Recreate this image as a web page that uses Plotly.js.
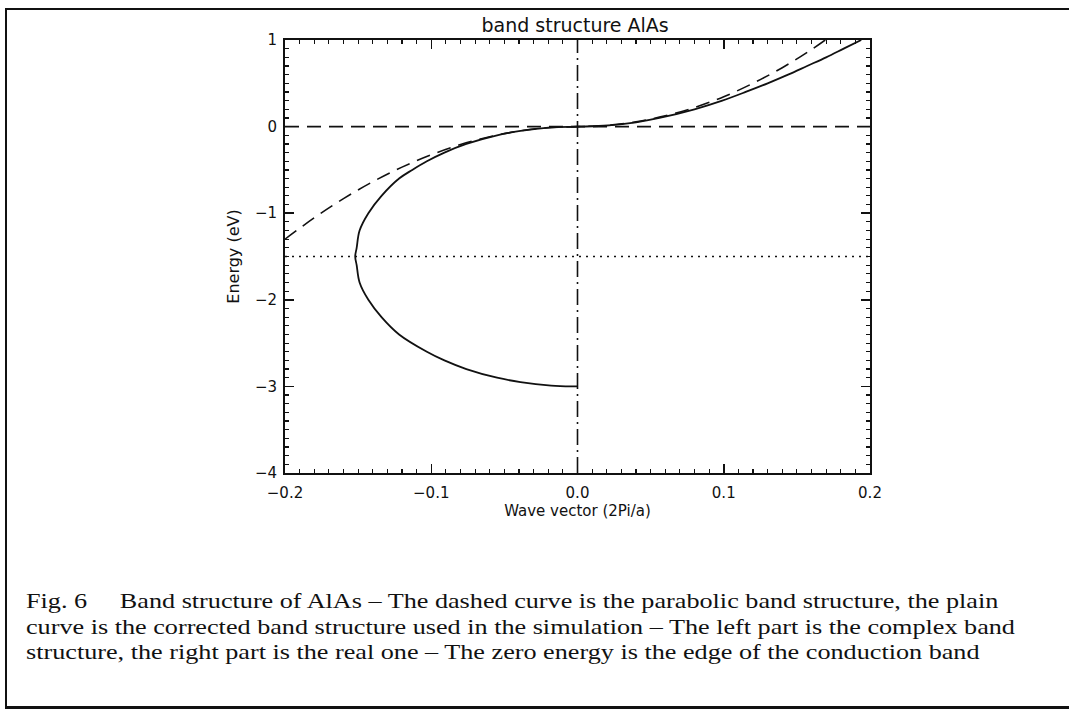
<!DOCTYPE html>
<html>
<head>
<meta charset="utf-8">
<script src="https://cdn.plot.ly/plotly-3.0.1.min.js"></script>
<style>
  html, body { margin: 0; padding: 0; background: #fff; }
  #wrap { position: relative; width: 1069px; height: 711px; overflow: hidden; }
  #chart { position: absolute; left: 0; top: 0; width: 1069px; height: 711px; }
  #frameTop { position: absolute; left: 6px; top: 8px; width: 1063px; height: 2px; background: #111; }
  #frameLeft { position: absolute; left: 5px; top: 8px; width: 2px; height: 701px; background: #111; }
  #frameBottom { position: absolute; left: 5px; top: 706px; width: 1064px; height: 3px; background: #111; }
  #caption { position: absolute; left: 26px; top: 588px; width: 900px; white-space: nowrap;
    font-family: "Liberation Serif", "Times New Roman", serif; font-size: 22px; line-height: 25.5px; color: #111;
    transform: scaleX(1.19); transform-origin: 0 0; }
</style>
</head>
<body>
<div id="wrap">
  <div id="chart"></div>
  <div id="frameTop"></div>
  <div id="frameLeft"></div>
  <div id="frameBottom"></div>
  <div id="caption">Fig. 6&nbsp;&nbsp;&nbsp;&nbsp; Band structure of AlAs – The dashed curve is the parabolic band structure, the plain<br>curve is the corrected band structure used in the simulation – The left part is the complex band<br>structure, the right part is the real one – The zero energy is the edge of the conduction band</div>
</div>
<script>
// Corrected (non-parabolic) band, complex part (left, k < 0)
const solidLeftK = [0, -0.018, -0.039, -0.055, -0.076, -0.091, -0.103, -0.113, -0.122, -0.134, -0.143, -0.149, -0.151, -0.152, -0.151, -0.149, -0.143, -0.134, -0.122, -0.103, -0.091, -0.076, -0.055, -0.039, -0.018, -0.004, 0];
const solidLeftE = [0, -0.01, -0.05, -0.1, -0.2, -0.3, -0.4, -0.5, -0.6, -0.8, -1.0, -1.2, -1.4, -1.5, -1.6, -1.8, -2.0, -2.2, -2.4, -2.6, -2.7, -2.8, -2.9, -2.95, -2.99, -3.0, -3.0];
// Corrected band, real part (right, k > 0)
const solidRightK = [0, 0.018, 0.040, 0.056, 0.080, 0.099, 0.115, 0.130, 0.144, 0.157, 0.170, 0.182, 0.194];
const solidRightE = [0, 0.01, 0.05, 0.1, 0.2, 0.3, 0.4, 0.5, 0.6, 0.7, 0.8, 0.9, 1.0];
// Parabolic band (dashed)
const paraK = [-0.2, -0.18, -0.16, -0.14, -0.12, -0.1, -0.08, -0.06, -0.04, -0.02, 0, 0.02, 0.04, 0.06, 0.08, 0.1, 0.12, 0.14, 0.16, 0.18];
const paraE = [-1.3, -1.053, -0.832, -0.637, -0.468, -0.325, -0.208, -0.117, -0.052, -0.013, 0, 0.014, 0.055, 0.124, 0.22, 0.345, 0.5, 0.68, 0.89, 1.13];
// Reference lines
const zeroLineK = [-0.2, 0.2];
const zeroLineE = [0, 0];
const midGapK = [-0.2, 0.2];
const midGapE = [-1.5, -1.5];
const kZeroK = [0, 0];
const kZeroE = [-4, 1];

const xTickVals = [-0.2, -0.1, 0.0, 0.1, 0.2];
const xTickText = ["−0.2", "−0.1", "0.0", "0.1", "0.2"];
const yTickVals = [-4, -3, -2, -1, 0, 1];
const yTickText = ["−4", "−3", "−2", "−1", "0", "1"];

const black = '#111';
const traces = [
  {x: zeroLineK, y: zeroLineE, mode: 'lines', line: {color: black, width: 1.6, dash: '14px,8px'}, hoverinfo: 'skip'},
  {x: midGapK, y: midGapE, mode: 'lines', line: {color: black, width: 1.6, dash: '2px,5px'}, hoverinfo: 'skip'},
  {x: kZeroK, y: kZeroE, mode: 'lines', line: {color: black, width: 1.6, dash: '16px,5px,2px,5px'}, hoverinfo: 'skip'},
  {x: paraK, y: paraE, mode: 'lines', line: {color: black, width: 1.6, dash: '14px,8px', shape: 'spline'}},
  {x: solidLeftK, y: solidLeftE, mode: 'lines', line: {color: black, width: 1.8, shape: 'spline'}},
  {x: solidRightK, y: solidRightE, mode: 'lines', line: {color: black, width: 1.8, shape: 'spline'}}
];

const tickFont = {family: 'DejaVu Sans, sans-serif', size: 15, color: black};
const layout = {
  width: 1069, height: 711,
  margin: {l: 285, r: 199, t: 40, b: 238},
  paper_bgcolor: 'rgba(0,0,0,0)', plot_bgcolor: '#fff',
  showlegend: false,
  title: {text: 'band structure AlAs', font: {family: 'DejaVu Sans, sans-serif', size: 19, color: black}, x: 0.538, xanchor: 'center', y: 0.964, yanchor: 'middle'},
  xaxis: {
    range: [-0.2, 0.2], showgrid: false, zeroline: false,
    showline: true, linecolor: black, linewidth: 2, mirror: 'ticks',
    ticks: 'inside', ticklen: 9, tickwidth: 1.5, tickcolor: black,
    tickvals: xTickVals, ticktext: xTickText, tickfont: tickFont, ticklabelstandoff: 5,
    minor: {dtick: 0.01, ticks: 'inside', ticklen: 4, tickwidth: 1.2, tickcolor: black, showgrid: false},
    title: {text: 'Wave vector (2Pi/a)', font: {family: 'DejaVu Sans, sans-serif', size: 15, color: black}, standoff: 1}
  },
  yaxis: {
    range: [-4, 1], showgrid: false, zeroline: false,
    showline: true, linecolor: black, linewidth: 2, mirror: 'ticks',
    ticks: 'inside', ticklen: 9, tickwidth: 1.5, tickcolor: black,
    tickvals: yTickVals, ticktext: yTickText, tickfont: tickFont, ticklabelstandoff: 3,
    minor: {dtick: 0.1, ticks: 'inside', ticklen: 4, tickwidth: 1.2, tickcolor: black, showgrid: false},
    title: {text: 'Energy (eV)', font: {family: 'DejaVu Sans, sans-serif', size: 16, color: black}, standoff: 11}
  }
};

Plotly.newPlot('chart', traces, layout, {staticPlot: true, displayModeBar: false});
</script>
</body>
</html>
